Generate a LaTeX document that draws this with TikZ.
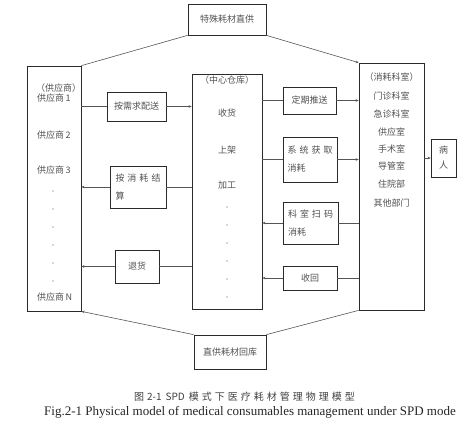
\documentclass[tikz,border=0pt]{standalone}
\usepackage{fontspec}
\setmainfont{Liberation Serif}
\newfontfamily\cjk{Noto Sans CJK SC}
\newfontfamily\cjkcap{Noto Sans CJK SC}[LetterSpace=30]
\usetikzlibrary{arrows.meta}
\definecolor{txt}{HTML}{505050}
\definecolor{ln}{HTML}{2A2A2A}
\definecolor{cn}{HTML}{555555}
\newcommand\gapx{\hspace{3pt}}
\begin{document}
\begin{tikzpicture}[x=1pt,y=-1pt,
  box/.style={draw=ln, line width=0.7pt, inner sep=0pt, anchor=center, text=txt,
              font=\cjk\fontsize{9}{18}\selectfont, align=left},
  lbl/.style={text=txt, font=\cjk\fontsize{9}{11}\selectfont, inner sep=0pt},
  conn/.style={draw=cn, line width=0.6pt},
  arr/.style={conn, -{Stealth[length=3pt,width=2.6pt]}},
  dotmark/.style={fill=txt}]
\useasboundingbox (0,0) rectangle (473,427);

% main boxes
\node[box, minimum width=78pt, minimum height=31pt] (top) at (227,19.5) {特殊耗材直供};
\node[box, minimum width=54pt, minimum height=245pt] (sup) at (54,188.5) {};
\node[box, minimum width=70pt, minimum height=235pt] (wh) at (227,191.5) {};
\node[box, minimum width=65pt, minimum height=247pt] (cons) at (391.5,186.5) {};
\node[box, minimum width=72pt, minimum height=34pt] (bot) at (230,352) {直供耗材回库};

% left small boxes
\node[box, minimum width=59pt, minimum height=29pt] (b1) at (136.5,106.5) {按需求配送};
\node[box, minimum width=56pt, minimum height=42pt] (b2) at (138,187) {按\gapx 消\gapx 耗\gapx 结\\算};
\node[box, minimum width=44pt, minimum height=33pt] (b3) at (137,266.5) {退货};

% right small boxes
\node[box, minimum width=53pt, minimum height=27pt] (r1) at (309.5,100.5) {定期推送};
\node[box, minimum width=54pt, minimum height=45pt] (r2) at (310,159.5) {系\gapx 统\gapx 获\gapx 取\\消耗};
\node[box, minimum width=55pt, minimum height=42pt] (r3) at (310.5,223) {科\gapx 室\gapx 扫\gapx 码\\消耗};
\node[box, minimum width=54pt, minimum height=24pt] (r4) at (310,278) {收回};

% patient
\node[box, minimum width=25pt, minimum height=38pt, font=\cjk\fontsize{9}{15}\selectfont, align=center] (pat) at (443.5,158) {病\\人};

% supplier texts
\node[lbl, anchor=west] (s0) at (36,88) {（供应商）};
\node[lbl, anchor=west] (s1) at (37,98) {供应商\,1};
\node[lbl, anchor=west] (s2) at (37,135) {供应商\,2};
\node[lbl, anchor=west] (s3) at (37,170) {供应商\,3};
\node[lbl, anchor=west] (sn) at (37,297) {供应商\,N};
\foreach \yy in {191,209,227,245,263,281} \fill[dotmark] (53,\yy) circle (0.6pt);

% warehouse texts
\node[lbl] (w0) at (227,80) {（中心仓库）};
\node[lbl] (w1) at (227,113) {收货};
\node[lbl] (w2) at (227,150) {上架};
\node[lbl] (w3) at (227,185) {加工};
\foreach \yy in {207,225,243,261,279,297} \fill[dotmark] (227,\yy) circle (0.6pt);

% consumer texts
\node[lbl] (c0) at (391.5,77) {（消耗科室）};
\node[lbl] (c1) at (391.5,96) {门诊科室};
\node[lbl] (c2) at (391.5,114) {急诊科室};
\node[lbl] (c3) at (391.5,132) {供应室};
\node[lbl] (c4) at (391.5,149) {手术室};
\node[lbl] (c5) at (391.5,166) {导管室};
\node[lbl] (c6) at (391.5,184) {住院部};
\node[lbl] (c7) at (391.5,203) {其他部门};

% connectors left
\draw[conn] (sup.east |- b1.west) -- (b1.west);
\draw[arr] (b1.east) -- (wh.west |- b1.east);
\draw[conn] (wh.west |- b2.east) -- (b2.east);
\draw[arr] (b2.west) -- (sup.east |- b2.west);
\draw[conn] (wh.west |- b3.east) -- (b3.east);
\draw[arr] (b3.west) -- (sup.east |- b3.west);

% connectors right
\draw[conn] (wh.east |- r1.west) -- (r1.west);
\draw[arr] (r1.east) -- (cons.west |- r1.east);
\draw[conn] (wh.east |- r2.west) -- (r2.west);
\draw[arr] (r2.east) -- (cons.west |- r2.east);
\draw[conn] (cons.west |- r3.east) -- (r3.east);
\draw[arr] (r3.west) -- (wh.east |- r3.west);
\draw[conn] (cons.west |- r4.east) -- (r4.east);
\draw[arr] (r4.west) -- (wh.east |- r4.west);
\draw[arr] (cons.east |- pat.west) -- (pat.west);

% diagonals
\draw[conn] (top.south west) -- (sup.north east);
\draw[arr] (top.south east) -- (cons.north west);
\draw[arr] (bot.north west) -- (sup.south east);
\draw[conn] (cons.south west) -- (bot.north east);

% caption
\node[text=black!75, font=\cjk\fontsize{10}{12}\selectfont, inner sep=0pt] (cap1) at (244.5,397) {{\cjkcap 图}\hspace{3pt}2-1\hspace{4pt}SPD\hspace{4pt}{\cjkcap 模式下医疗耗材管理物理模型}};
\node[text=black!85, font=\fontsize{13}{15}\selectfont, inner sep=0pt] (cap2) at (250,412) {Fig.2-1 Physical model of medical consumables management under SPD mode};
\end{tikzpicture}
\end{document}
